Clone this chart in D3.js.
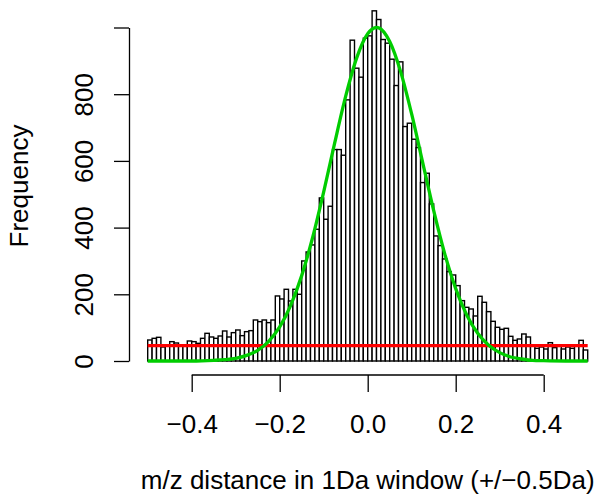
<!DOCTYPE html>
<html>
<head>
<meta charset="utf-8">
<script src="https://cdn.jsdelivr.net/npm/d3@7"></script>
<style>
  html, body { margin: 0; padding: 0; background: #fff; }
  svg { display: block; }
  text { font-family: "Liberation Sans", Arial, Helvetica, sans-serif; fill: #000; }
</style>
</head>
<body>
<svg id="chart" width="601" height="500"></svg>
<script>
// Histogram: bins of width 0.01 from -0.5 to 0.5
const binStart = -0.5;
const binWidth = 0.01;
const counts = [
  63, 68, 71, 42, 48, 58, 54, 46, 44, 60,
  58, 53, 68, 83, 72, 68, 75, 90, 72, 85,
  93, 76, 88, 91, 123, 118, 123, 115, 123, 195,
  186, 215, 180, 215, 200, 300, 327, 348, 395, 489,
  425, 464, 634, 634, 617, 783, 962, 878, 851, 968,
  975, 1050, 1024, 964, 953, 905, 826, 897, 703, 713,
  665, 640, 535, 563, 471, 375, 346, 306, 268, 258,
  226, 181, 161, 156, 135, 194, 176, 148, 119, 101,
  95, 98, 74, 62, 66, 81, 72, 45, 38, 42,
  36, 55, 40, 44, 36, 42, 38, 45, 62, 33
];

// Green fitted curve
const greenX = [-0.5, -0.4, -0.35, -0.325, -0.3, -0.275, -0.25, -0.225, -0.2, -0.175, -0.15, -0.125, -0.1, -0.075, -0.05, -0.025, 0, 0.02, 0.025, 0.05, 0.075, 0.1, 0.125, 0.15, 0.175, 0.2, 0.225, 0.25, 0.275, 0.3, 0.325, 0.35, 0.375, 0.4, 0.45, 0.5];
const greenY = [0, 0, 2, 4, 8, 17, 32, 59, 102, 167, 256, 371, 507, 654, 794, 909, 981, 1000, 999, 958, 867, 740, 595, 451, 322, 217, 138, 83, 47, 25, 12, 6, 2, 1, 0, 0];

// Red horizontal reference line
const redLevel = 46;
const redX = [-0.5, 0.5];

// Axis ticks
const xTicks = [-0.4, -0.2, 0.0, 0.2, 0.4];
const xTickLabels = ["\u22120.4", "\u22120.2", "0.0", "0.2", "0.4"];
const yTicks = [0, 200, 400, 600, 800, 1000];
const yTickLabels = ["0", "200", "400", "600", "800", ""];

const xTitle = "m/z distance in 1Da window (+/\u22120.5Da)";
const yTitle = "Frequency";

const svg = d3.select("#chart");
const fs = 26;

const x = d3.scaleLinear().domain([-0.5, 0.5]).range([147.7, 587.7]);
const y = d3.scaleLinear().domain([0, 1000]).range([361, 27.5]);

const bins = counts.map((c, i) => ({
  x0: binStart + i * binWidth,
  x1: binStart + (i + 1) * binWidth,
  c
}));

// Bars
svg.append("g")
  .selectAll("rect")
  .data(bins)
  .join("rect")
  .attr("x", d => x(d.x0))
  .attr("width", d => x(d.x1) - x(d.x0))
  .attr("y", d => y(d.c))
  .attr("height", d => y(0) - y(d.c))
  .attr("fill", "#fff")
  .attr("stroke", "#000")
  .attr("stroke-width", 1.4);

// Red line
svg.append("path")
  .datum(redX.map(v => [v, redLevel]))
  .attr("d", d3.line().x(d => x(d[0])).y(d => y(d[1])))
  .attr("fill", "none")
  .attr("stroke", "#ff0000")
  .attr("stroke-width", 3.3);

// Green curve
svg.append("path")
  .datum(greenX.map((v, i) => [v, greenY[i]]))
  .attr("d", d3.line().x(d => x(d[0])).y(d => y(d[1])).curve(d3.curveMonotoneX))
  .attr("fill", "none")
  .attr("stroke", "#00cd00")
  .attr("stroke-width", 3.3);

// Y axis
const yAxisG = svg.append("g")
  .attr("transform", "translate(129,0)")
  .call(d3.axisLeft(y).tickValues(yTicks).tickSize(15).tickSizeOuter(0)
    .tickFormat((d, i) => yTickLabels[i]));
yAxisG.selectAll("path, line").attr("stroke", "#000").attr("stroke-width", 1.3);
yAxisG.selectAll("text")
  .attr("font-size", fs)
  .attr("text-anchor", "middle")
  .attr("dy", null)
  .attr("x", null)
  .attr("transform", "translate(-36,0) rotate(-90)")
  .attr("y", 0);

// X axis
const xAxisG = svg.append("g")
  .attr("transform", "translate(0,375)")
  .call(d3.axisBottom(x).tickValues(xTicks).tickSize(17).tickSizeOuter(0)
    .tickFormat((d, i) => xTickLabels[i]));
xAxisG.select(".domain").remove();
xAxisG.append("line")
  .attr("x1", x(xTicks[0])).attr("x2", x(xTicks[xTicks.length - 1]))
  .attr("y1", 0).attr("y2", 0);
xAxisG.selectAll("line").attr("stroke", "#000").attr("stroke-width", 1.3);
xAxisG.selectAll("text")
  .attr("font-size", fs)
  .attr("dy", null)
  .attr("y", 57.7);

// Titles
svg.append("text")
  .attr("x", 367.7).attr("y", 489)
  .attr("text-anchor", "middle")
  .attr("font-size", fs)
  .text(xTitle);

svg.append("text")
  .attr("transform", "translate(28,186) rotate(-90)")
  .attr("text-anchor", "middle")
  .attr("font-size", fs)
  .text(yTitle);
</script>
</body>
</html>
